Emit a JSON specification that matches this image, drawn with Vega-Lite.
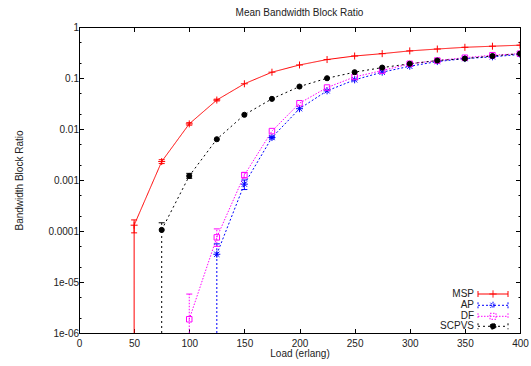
{
  "$schema": "https://vega.github.io/schema/vega-lite/v6.json",
  "width": 441,
  "height": 306,
  "autosize": {"type": "none"},
  "padding": {"left": 79, "top": 27, "right": 11, "bottom": 33},
  "title": {"text": "Mean Bandwidth Block Ratio", "fontSize": 10, "fontWeight": "normal", "font": "Liberation Sans", "color": "#222", "offset": 4},
  "data": {"values": [
    {"s": "MSP", "x": 50, "y": 0.00013, "lo": 0.000092, "hi": 0.000165, "floor": 0.000001},
    {"s": "MSP", "x": 75, "y": 0.0023, "lo": 0.0021, "hi": 0.0025},
    {"s": "MSP", "x": 100, "y": 0.0126, "lo": 0.0119, "hi": 0.0133},
    {"s": "MSP", "x": 125, "y": 0.037, "lo": 0.0355, "hi": 0.0385},
    {"s": "MSP", "x": 150, "y": 0.077},
    {"s": "MSP", "x": 175, "y": 0.13},
    {"s": "MSP", "x": 200, "y": 0.18},
    {"s": "MSP", "x": 225, "y": 0.23},
    {"s": "MSP", "x": 250, "y": 0.27},
    {"s": "MSP", "x": 275, "y": 0.30},
    {"s": "MSP", "x": 300, "y": 0.34},
    {"s": "MSP", "x": 325, "y": 0.37},
    {"s": "MSP", "x": 350, "y": 0.40},
    {"s": "MSP", "x": 375, "y": 0.42},
    {"s": "MSP", "x": 400, "y": 0.44},
    {"s": "AP", "x": 125, "y": 0.000035, "lo": 0.000035, "hi": 0.000056, "floor": 0.000001},
    {"s": "AP", "x": 150, "y": 0.00083, "lo": 0.00065, "hi": 0.001},
    {"s": "AP", "x": 175, "y": 0.0068, "lo": 0.0064, "hi": 0.0072},
    {"s": "AP", "x": 200, "y": 0.025},
    {"s": "AP", "x": 225, "y": 0.056},
    {"s": "AP", "x": 250, "y": 0.092},
    {"s": "AP", "x": 275, "y": 0.13},
    {"s": "AP", "x": 300, "y": 0.17},
    {"s": "AP", "x": 325, "y": 0.21},
    {"s": "AP", "x": 350, "y": 0.24},
    {"s": "AP", "x": 375, "y": 0.26},
    {"s": "AP", "x": 400, "y": 0.29},
    {"s": "DF", "x": 100, "y": 0.00000186, "lo": 0.00000186, "hi": 0.0000058, "floor": 0.000001},
    {"s": "DF", "x": 125, "y": 0.000075, "lo": 0.00005, "hi": 0.00011},
    {"s": "DF", "x": 150, "y": 0.00125, "lo": 0.0011, "hi": 0.0014},
    {"s": "DF", "x": 175, "y": 0.0091},
    {"s": "DF", "x": 200, "y": 0.032},
    {"s": "DF", "x": 225, "y": 0.065},
    {"s": "DF", "x": 250, "y": 0.105},
    {"s": "DF", "x": 275, "y": 0.14},
    {"s": "DF", "x": 300, "y": 0.19},
    {"s": "DF", "x": 325, "y": 0.22},
    {"s": "DF", "x": 350, "y": 0.25},
    {"s": "DF", "x": 375, "y": 0.28},
    {"s": "DF", "x": 400, "y": 0.30},
    {"s": "SCPVS", "x": 75, "y": 0.000105, "lo": 0.000105, "hi": 0.000145, "floor": 0.000001},
    {"s": "SCPVS", "x": 100, "y": 0.0012, "lo": 0.00108, "hi": 0.00135},
    {"s": "SCPVS", "x": 125, "y": 0.0063},
    {"s": "SCPVS", "x": 150, "y": 0.019},
    {"s": "SCPVS", "x": 175, "y": 0.039},
    {"s": "SCPVS", "x": 200, "y": 0.068},
    {"s": "SCPVS", "x": 225, "y": 0.099},
    {"s": "SCPVS", "x": 250, "y": 0.13},
    {"s": "SCPVS", "x": 275, "y": 0.16},
    {"s": "SCPVS", "x": 300, "y": 0.19},
    {"s": "SCPVS", "x": 325, "y": 0.22},
    {"s": "SCPVS", "x": 350, "y": 0.24},
    {"s": "SCPVS", "x": 375, "y": 0.27},
    {"s": "SCPVS", "x": 400, "y": 0.30}
  ]},
  "layer": [
    {
      "encoding": {
        "x": {"field": "x", "type": "quantitative", "scale": {"domain": [0, 400], "nice": false, "zero": false},
          "axis": {"title": "Load (erlang)", "values": [0, 50, 100, 150, 200, 250, 300, 350, 400], "tickSize": -4.5, "labelPadding": 10, "titlePadding": 0, "labelFlush": false}},
        "y": {"field": "y", "type": "quantitative", "scale": {"type": "log", "domain": [0.000001, 1], "nice": false},
          "axis": {"title": "Bandwidth Block Ratio", "titlePadding": 23,
            "values": [0.000001, 0.000002, 0.000005, 0.00001, 0.00002, 0.00005, 0.0001, 0.0002, 0.0005, 0.001, 0.002, 0.005, 0.01, 0.02, 0.05, 0.1, 0.2, 0.5, 1],
            "labelExpr": "abs(log(datum.value)/LN10 - round(log(datum.value)/LN10)) > 0.01 ? '' : datum.value >= 0.0001 ? format(datum.value, '') : replace(format(datum.value, '.0e'), 'e-', 'e-0')",
            "tickSize": {"condition": {"test": "abs(log(datum.value)/LN10 - round(log(datum.value)/LN10)) < 0.01", "value": -4.5}, "value": -2},
            "labelPadding": 5, "labelOverlap": false, "labelFlush": false}}
      },
      "layer": [
        {
          "mark": {"type": "line", "strokeWidth": 1, "clip": true},
          "encoding": {
            "color": {"field": "s", "type": "nominal", "scale": {"domain": ["MSP", "AP", "DF", "SCPVS"], "range": ["#ff0000", "#0000ff", "#ff00ff", "#000000"]},
              "legend": {"title": null, "orient": "none", "legendX": 409, "legendY": 262, "labelAlign": "right", "labelOffset": -24, "symbolSize": 36, "symbolStrokeWidth": 1, "labelFontSize": 10, "labelFont": "Liberation Sans", "labelColor": "#222", "rowPadding": -0.7}},
            "strokeDash": {"field": "s", "type": "nominal", "scale": {"domain": ["MSP", "AP", "DF", "SCPVS"], "range": [[1, 0], [2, 2], [1.5, 1.5], [2, 3]]}}
          }
        },
        {
          "transform": [{"filter": "false"}],
          "mark": {"type": "point", "filled": false},
          "encoding": {
            "shape": {"field": "s", "type": "nominal", "scale": {"domain": ["MSP", "AP", "DF", "SCPVS"], "range": [
              "M-5,0H5M-5,-1V1M5,-1V1M-1.2,0H1.2M0,-1.2V1.2",
              "M-5,0H5M-5,-1V1M5,-1V1M-1.2,0H1.2M0,-1.2V1.2M-0.85,-0.85L0.85,0.85M-0.85,0.85L0.85,-0.85",
              "M-5,0H5M-5,-1V1M5,-1V1M-1,-1H1M1,-1V1M1,1H-1M-1,1V-1",
              "M-5,0H5M-5,-1V1M5,-1V1M1,0A1,1 0 1,1 -1,0A1,1 0 1,1 1,0Z"]}},
            "fill": {"field": "s", "type": "nominal", "scale": {"domain": ["MSP", "AP", "DF", "SCPVS"], "range": ["transparent", "transparent", "transparent", "#000000"]}}
          }
        },
        {
          "mark": {"type": "rule", "strokeWidth": 1, "clip": true},
          "encoding": {
            "y": {"field": "floor", "type": "quantitative", "scale": {"type": "log", "domain": [0.000001, 1], "nice": false}, "title": "Bandwidth Block Ratio"},
            "y2": {"field": "y"},
            "color": {"field": "s", "type": "nominal"},
            "strokeDash": {"field": "s", "type": "nominal"}
          }
        },
        {
          "mark": {"type": "rule", "strokeWidth": 1, "clip": true},
          "encoding": {
            "y": {"field": "lo", "type": "quantitative", "scale": {"type": "log", "domain": [0.000001, 1], "nice": false}, "title": "Bandwidth Block Ratio"},
            "y2": {"field": "hi"},
            "color": {"field": "s", "type": "nominal"},
            "strokeDash": {"field": "s", "type": "nominal"}
          }
        },
        {
          "mark": {"type": "tick", "orient": "horizontal", "size": 6, "thickness": 1, "clip": true, "opacity": 1},
          "encoding": {
            "y": {"field": "hi", "type": "quantitative", "scale": {"type": "log", "domain": [0.000001, 1], "nice": false}, "title": "Bandwidth Block Ratio"},
            "color": {"field": "s", "type": "nominal"}
          }
        },
        {
          "transform": [{"filter": "datum.lo != null && datum.lo < datum.y"}],
          "mark": {"type": "tick", "orient": "horizontal", "size": 6, "thickness": 1, "clip": true, "opacity": 1},
          "encoding": {
            "y": {"field": "lo", "type": "quantitative", "scale": {"type": "log", "domain": [0.000001, 1], "nice": false}, "title": "Bandwidth Block Ratio"},
            "color": {"field": "s", "type": "nominal"}
          }
        },
        {
          "transform": [{"filter": "datum.s === 'MSP'"}],
          "mark": {"type": "point", "shape": "M-1,0H1M0,-1V1", "size": 49, "filled": false, "stroke": "#ff0000", "strokeWidth": 1, "opacity": 1, "clip": true}
        },
        {
          "transform": [{"filter": "datum.s === 'AP'"}],
          "mark": {"type": "point", "shape": "M-1,0H1M0,-1V1M-0.75,-0.75L0.75,0.75M-0.75,0.75L0.75,-0.75", "size": 49, "filled": false, "stroke": "#0000ff", "strokeWidth": 1, "opacity": 1, "clip": true}
        },
        {
          "transform": [{"filter": "datum.s === 'DF'"}],
          "mark": {"type": "point", "shape": "square", "size": 30, "filled": false, "stroke": "#ff00ff", "strokeWidth": 1, "opacity": 1, "clip": true}
        },
        {
          "transform": [{"filter": "datum.s === 'SCPVS'"}],
          "mark": {"type": "point", "shape": "circle", "size": 26, "filled": true, "fill": "#000000", "stroke": "#000000", "strokeWidth": 1, "opacity": 1, "clip": true}
        }
      ]
    },
    {
      "mark": {"type": "point", "opacity": 0},
      "encoding": {
        "x": {"field": "x", "type": "quantitative", "scale": {"domain": [0, 400], "nice": false, "zero": false},
          "axis": {"orient": "top", "labels": false, "title": null, "values": [0, 50, 100, 150, 200, 250, 300, 350, 400], "tickSize": -4.5}},
        "y": {"field": "y", "type": "quantitative", "scale": {"type": "log", "domain": [0.000001, 1], "nice": false},
          "axis": {"orient": "right", "labels": false, "title": null,
            "values": [0.000001, 0.000002, 0.000005, 0.00001, 0.00002, 0.00005, 0.0001, 0.0002, 0.0005, 0.001, 0.002, 0.005, 0.01, 0.02, 0.05, 0.1, 0.2, 0.5, 1],
            "tickSize": {"condition": {"test": "abs(log(datum.value)/LN10 - round(log(datum.value)/LN10)) < 0.01", "value": -4.5}, "value": -2}}}
      }
    }
  ],
  "resolve": {"scale": {"x": "independent", "y": "independent"}},
  "config": {
    "font": "Liberation Sans",
    "view": {"stroke": "#000000", "strokeWidth": 1},
    "axis": {"labelFont": "Liberation Sans", "labelFontSize": 10, "labelColor": "#222", "titleFont": "Liberation Sans", "titleFontSize": 10, "titleFontWeight": "normal", "titleColor": "#222", "domainColor": "#000000", "tickColor": "#000000", "grid": false}
  }
}
